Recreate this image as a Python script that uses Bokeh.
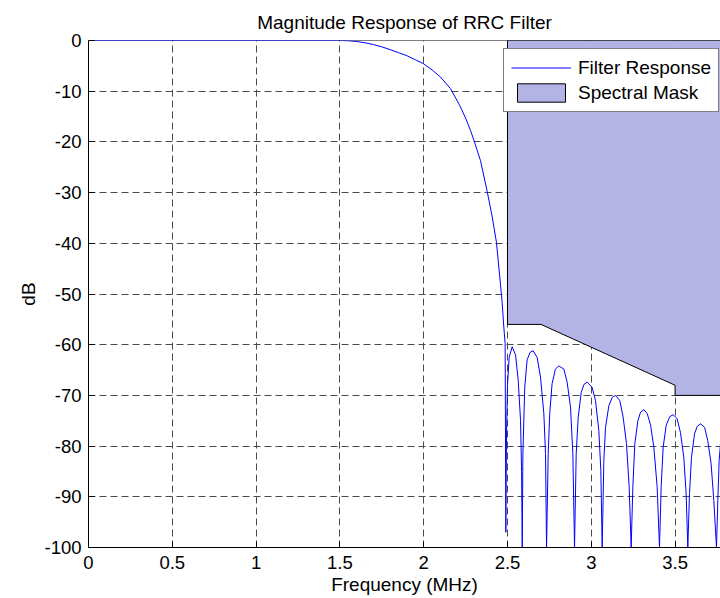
from bokeh.plotting import figure
from bokeh.models import (Range1d, FixedTicker, Legend, LegendItem, Span)
from bokeh.embed import file_html
from bokeh.resources import INLINE

# ---- data ----
freq_mhz = [0.0, 0.5, 1.0, 1.5, 1.55, 1.60, 1.65, 1.70, 1.75, 1.80, 1.85, 1.90, 1.95,
            2.00, 2.05, 2.10, 2.16, 2.215, 2.25, 2.28, 2.30, 2.339, 2.379, 2.409, 2.434,
            2.458, 2.468, 2.478, 2.486, 2.490,
            2.494, 2.500, 2.510, 2.528, 2.548, 2.564, 2.578, 2.584, 2.588,
            2.592, 2.603, 2.617, 2.635, 2.653, 2.677, 2.697, 2.717, 2.727, 2.733,
            2.743, 2.752, 2.766, 2.786, 2.806, 2.836, 2.856, 2.876, 2.890, 2.900,
            2.910, 2.922, 2.940, 2.957, 2.975, 3.005, 3.025, 3.045, 3.057, 3.065,
            3.075, 3.085, 3.105, 3.125, 3.144, 3.170, 3.190, 3.210, 3.226, 3.238,
            3.248, 3.260, 3.278, 3.294, 3.314, 3.334, 3.354, 3.373, 3.393, 3.407,
            3.417, 3.429, 3.447, 3.468, 3.489, 3.512, 3.532, 3.552, 3.566, 3.576,
            3.586, 3.598, 3.616, 3.632, 3.652, 3.676, 3.695, 3.715, 3.731, 3.747,
            3.755, 3.763, 3.771, 3.790, 3.810]
response_db = [0, 0, 0, 0, -0.05, -0.2, -0.45, -0.8, -1.25, -1.8, -2.4, -3.0, -3.8,
               -4.6, -5.8, -7.2, -9.5, -12.8, -15.3, -17.8, -19.7, -23.7, -29.8, -34.8, -39.8,
               -48.0, -51.6, -56.5, -59.8, -97,
               -78, -68, -62.5, -60.4, -62, -67, -75, -85, -100,
               -81.5, -68.4, -63, -61.5, -61.2, -62.5, -66.4, -73.6, -81.5, -100,
               -81.5, -73.6, -67.7, -64.8, -64.2, -64.8, -67.4, -72.3, -81.5, -100,
               -81.5, -74.3, -69.4, -67.8, -67.4, -68.4, -71, -76.9, -84.8, -100,
               -82.8, -76.3, -72, -70.4, -70.0, -71, -74.3, -79.5, -88, -100,
               -88, -79.5, -75, -73.3, -72.8, -73.6, -75.9, -80.2, -88, -100,
               -88, -80.2, -75.9, -74.2, -73.8, -74.6, -77.3, -82.2, -89.4, -100,
               -89.4, -82.2, -77.6, -76.1, -75.6, -76.3, -78.9, -83.5, -90.7, -100,
               -90.7, -82.8, -79.5, -77.5, -77]

mask_freq = [2.5, 2.5, 2.7, 3.5, 3.5, 3.84, 3.84]
mask_db = [0, -56, -56, -68, -70, -70, 0]

x_ticks = [0, 0.5, 1, 1.5, 2, 2.5, 3, 3.5]
x_tick_labels = ["0", "0.5", "1", "1.5", "2", "2.5", "3", "3.5"]
y_ticks = [0, -10, -20, -30, -40, -50, -60, -70, -80, -90, -100]
y_tick_labels = ["0", "-10", "-20", "-30", "-40", "-50", "-60", "-70", "-80", "-90", "-100"]

FONT = "Liberation Sans"
TICK_FS = "18.5px"
FS = "19px"

p = figure(width=720, height=598, output_backend="svg", toolbar_location=None,
           x_range=Range1d(0, 3.771), y_range=Range1d(-100, 0),
           title="Magnitude Response of RRC Filter",
           min_border_left=88, min_border_right=0, min_border_top=40, min_border_bottom=51)
p.outline_line_color = None
p.background_fill_color = "white"
p.border_fill_color = "white"

p.title.align = "center"
p.title.text_font = FONT
p.title.text_font_size = FS
p.title.text_font_style = "normal"
p.title.text_color = "black"
p.title.standoff = 16

for ax in (p.xaxis[0], p.yaxis[0]):
    ax.major_label_text_font = FONT
    ax.major_label_text_font_size = TICK_FS
    ax.major_label_text_color = "black"
    ax.axis_label_text_font = FONT
    ax.axis_label_text_font_size = FS
    ax.axis_label_text_font_style = "normal"
    ax.axis_label_text_color = "black"
    ax.axis_line_color = "black"
    ax.major_tick_line_color = "black"
    ax.major_tick_in = 6
    ax.major_tick_out = 0
    ax.minor_tick_line_color = None

p.xaxis[0].ticker = FixedTicker(ticks=x_ticks)
p.xaxis[0].major_label_overrides = dict(zip(x_ticks, x_tick_labels))
p.xaxis[0].axis_label = "Frequency (MHz)"
p.xaxis[0].major_label_standoff = 8
p.xaxis[0].axis_label_standoff = 2

p.yaxis[0].ticker = FixedTicker(ticks=y_ticks)
p.yaxis[0].major_label_overrides = dict(zip(y_ticks, y_tick_labels))
p.yaxis[0].axis_label = "dB"
p.yaxis[0].major_label_standoff = 7
p.yaxis[0].axis_label_standoff = 2

# top border of the axes box
p.add_layout(Span(location=0, dimension="width", line_color="black", line_width=1,
                  level="underlay"))

for g in (p.xgrid[0], p.ygrid[0]):
    g.grid_line_color = "#4a4a4a"
    g.grid_line_dash = "7 4"
    g.grid_line_width = 1
p.xgrid[0].ticker = FixedTicker(ticks=x_ticks)
p.ygrid[0].ticker = FixedTicker(ticks=y_ticks)

mask = p.patch(mask_freq, mask_db, fill_color="#b3b3e6", line_color="black", line_width=1)
resp = p.line(freq_mhz, response_db, line_color="#0000ff", line_width=1)

legend = Legend(items=[LegendItem(label="Filter Response", renderers=[resp]),
                       LegendItem(label="Spectral Mask", renderers=[mask])],
                location=(415, 435), orientation="vertical",
                label_text_font=FONT, label_text_font_size=FS, label_text_color="black",
                glyph_width=60, glyph_height=23, label_height=23, label_standoff=7,
                spacing=2, padding=7, margin=0,
                border_line_color="black", border_line_width=1,
                background_fill_color="white", background_fill_alpha=1.0)
p.add_layout(legend, "center")

open("out.html", "w").write(file_html(p, INLINE))
